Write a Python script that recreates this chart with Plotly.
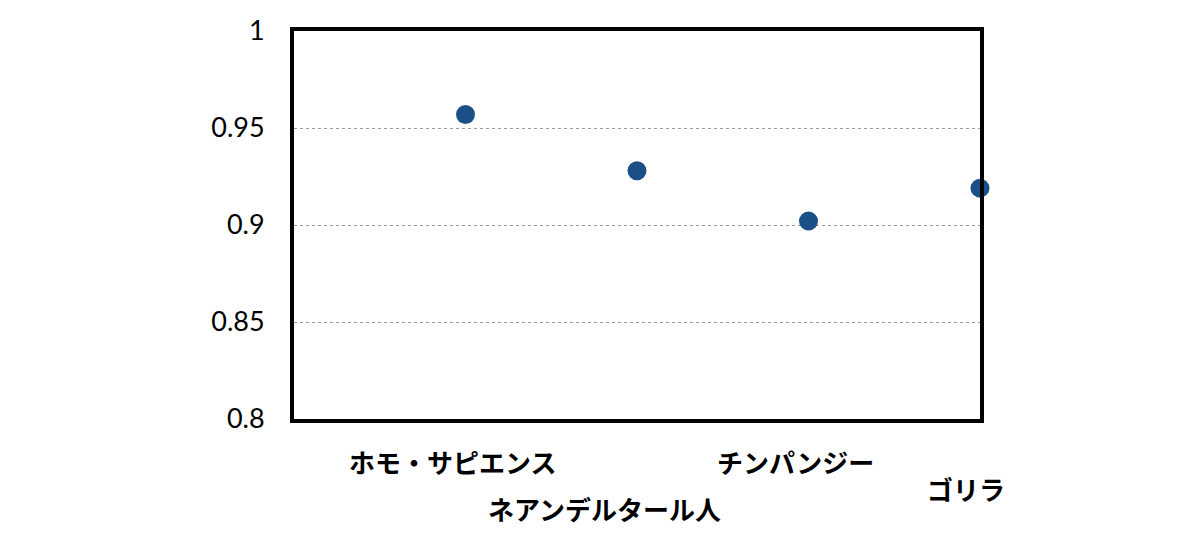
import plotly.graph_objects as go

# data
species = ["ホモ・サピエンス", "ネアンデルタール人", "チンパンジー", "ゴリラ"]
similarity = [0.957, 0.928, 0.902, 0.919]
y_ticks = [0.8, 0.85, 0.9, 0.95, 1]
y_tick_text = ["0.8", "0.85", "0.9", "0.95", "1"]

# label tweaks (staggered category labels)
LABEL_XSHIFT = [-13, -33, -13, -14]
LABEL_Y = [-0.11, -0.23, -0.11, -0.18]

MARKER_COLOR = "#1b4f88"
JP_FONT = "Noto Sans CJK JP"

fig = go.Figure()

fig.add_trace(
    go.Scatter(
        x=list(range(len(species))),
        y=similarity,
        mode="markers",
        marker=dict(color=MARKER_COLOR, size=19),
        cliponaxis=False,
        showlegend=False,
    )
)

for i, name in enumerate(species):
    fig.add_annotation(
        x=i,
        y=LABEL_Y[i],
        xref="x",
        yref="paper",
        text=f"<b>{name}</b>",
        showarrow=False,
        xshift=LABEL_XSHIFT[i],
        font=dict(family=JP_FONT, size=26, color="black"),
        xanchor="center",
        yanchor="middle",
    )

# page body has an 8px margin, so the figure is sized to fit inside it
fig.update_layout(
    width=1184,
    height=523,
    margin=dict(l=286, r=212, t=23, b=112),
    plot_bgcolor="white",
    paper_bgcolor="white",
    xaxis=dict(
        range=[-1, 3],
        showticklabels=False,
        showgrid=False,
        zeroline=False,
        showline=True,
        linewidth=4,
        linecolor="black",
        mirror=True,
        ticks="",
        automargin=False,
    ),
    yaxis=dict(
        range=[0.8, 1],
        tickvals=y_ticks,
        ticktext=y_tick_text,
        showgrid=True,
        gridcolor="#9a9a9a",
        griddash="dot",
        gridwidth=1,
        zeroline=False,
        showline=True,
        linewidth=4,
        linecolor="black",
        mirror=True,
        ticks="",
        automargin=False,
        ticklabelstandoff=20,
        tickfont=dict(family="Lato", size=27, color="black"),
    ),
)

fig.write_html("out.html")
